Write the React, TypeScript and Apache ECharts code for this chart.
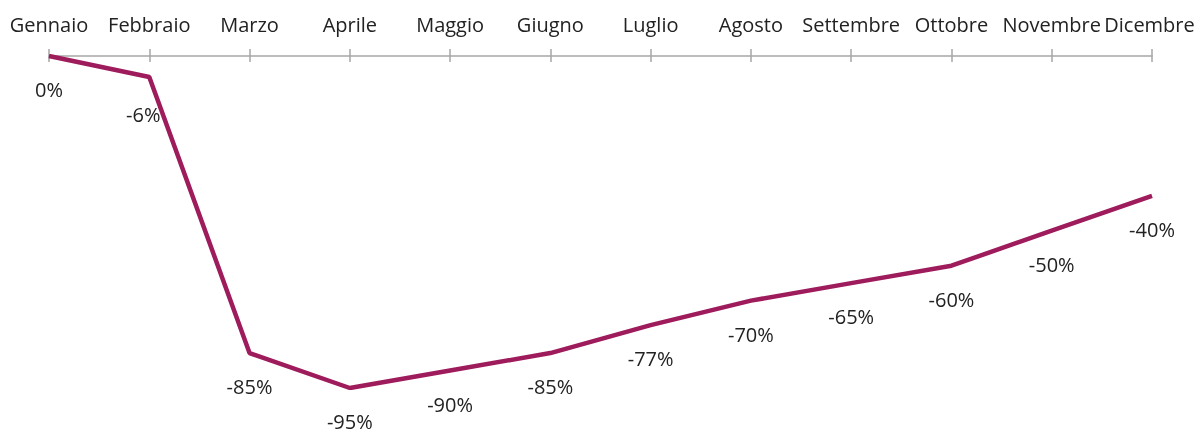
import React, { useEffect, useRef } from "react";
import * as echarts from "echarts";

const months = ["Gennaio", "Febbraio", "Marzo", "Aprile", "Maggio", "Giugno", "Luglio", "Agosto", "Settembre", "Ottobre", "Novembre", "Dicembre"];
const values = [0, -6, -85, -95, -90, -85, -77, -70, -65, -60, -50, -40];

export default function App() {
  const ref = useRef<HTMLDivElement>(null);
  useEffect(() => {
    const chart = echarts.init(ref.current!, null, { renderer: "svg" });
    const font = "'Open Sans', 'Noto Sans', sans-serif";
    const seriesData = values.map((v, i) =>
      i === 1 ? { value: v, label: { offset: [-6, 4] } } : { value: v }
    );
    chart.setOption({
      animation: false,
      grid: { left: 49, right: 47, top: 56, bottom: 44 },
      xAxis: [
        {
          type: "category",
          position: "top",
          data: months,
          boundaryGap: false,
          axisLine: { show: true, lineStyle: { color: "#a6a6a6", width: 1.5 } },
          axisTick: { show: true, length: 7, lineStyle: { color: "#a6a6a6", width: 1.5 } },
          axisLabel: {
            color: "#222",
            fontSize: 20,
            fontFamily: font,
            margin: 22,
            interval: 0,
            formatter: (v: string, i: number) => (i === months.length - 1 ? `{last|${v}}` : v),
            rich: { last: { color: "#222", fontSize: 20, fontFamily: font, padding: [0, 5, 0, 0] } },
          },
          splitLine: { show: false },
        },
        {
          type: "category",
          position: "top",
          data: months,
          boundaryGap: false,
          axisLine: { show: false },
          axisTick: { show: true, inside: true, length: 6, lineStyle: { color: "#a6a6a6", width: 1.5 } },
          axisLabel: { show: false },
        },
      ],
      yAxis: { type: "value", min: -95, max: 0, show: false },
      series: [
        {
          type: "line",
          data: seriesData,
          xAxisIndex: 0,
          symbol: "circle",
          symbolSize: 1,
          showSymbol: true,
          itemStyle: { color: "rgba(0,0,0,0)" },
          z: 5,
          lineStyle: { color: "#9e1b5c", width: 4.5 },
          label: {
            show: true,
            position: "bottom",
            distance: 23,
            color: "#222",
            fontSize: 20,
            fontFamily: font,
            formatter: (p: any) => p.value + "%",
          },
        },
      ],
    });
    return () => chart.dispose();
  }, []);
  return <div ref={ref} style={{ position: "fixed", left: 0, top: 0, width: 1199, height: 432 }} />;
}
